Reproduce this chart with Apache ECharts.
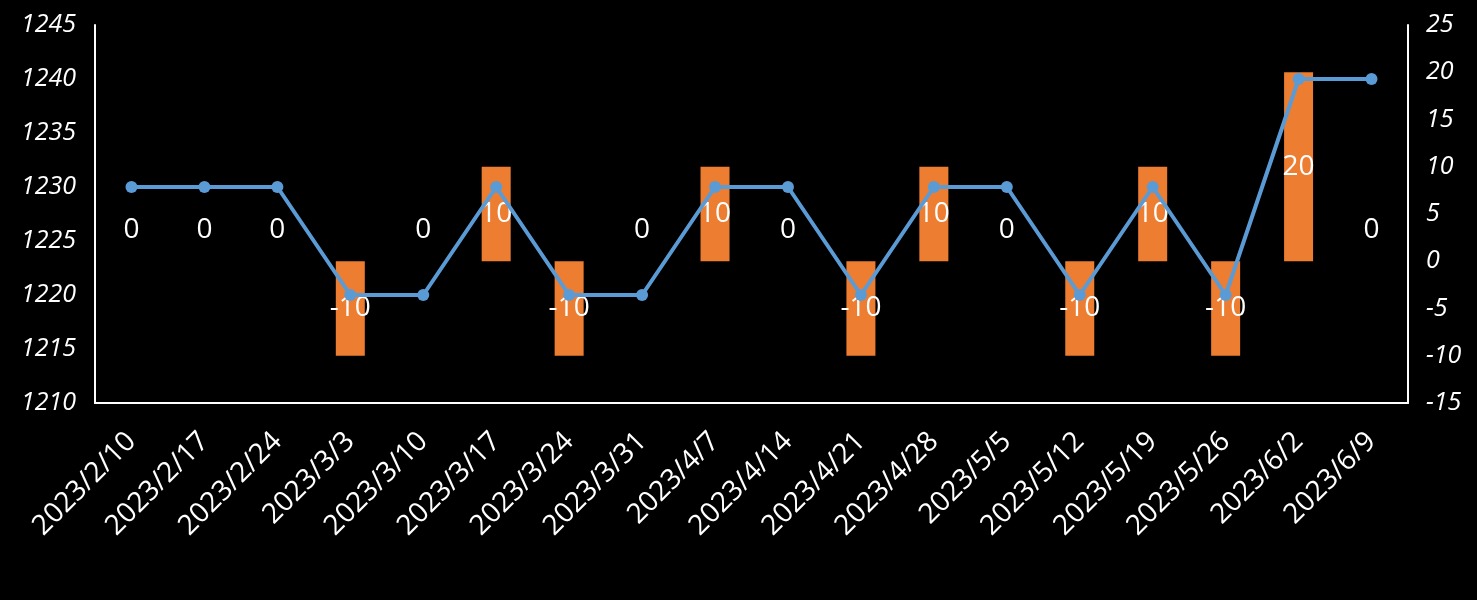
<!DOCTYPE html>
<html><head><meta charset="utf-8">
<script src="https://cdn.jsdelivr.net/npm/echarts@6/dist/echarts.min.js"></script>
<style>html,body{margin:0;padding:0;background:#000;}#c{width:1477px;height:600px;}</style>
</head><body><div id="c"></div>
<script>
const categories = ['2023/2/10','2023/2/17','2023/2/24','2023/3/3','2023/3/10','2023/3/17','2023/3/24','2023/3/31','2023/4/7','2023/4/14','2023/4/21','2023/4/28','2023/5/5','2023/5/12','2023/5/19','2023/5/26','2023/6/2','2023/6/9'];
const lineValues = [1230,1230,1230,1220,1220,1230,1220,1220,1230,1230,1220,1230,1230,1220,1230,1220,1240,1240];
const barValues = [0,0,0,-10,0,10,-10,0,10,0,-10,10,0,-10,10,-10,20,0];
const leftTicks = {min:1210, max:1245, interval:5};
const rightTicks = {min:-15, max:25, interval:5};

const font = '"Open Sans", "Liberation Sans", sans-serif';
const chart = echarts.init(document.getElementById('c'));
chart.setOption({
  backgroundColor:'#000',
  animation:false,
  grid:{left:95, right:69, top:25, bottom:197},
  xAxis:{type:'category', data:categories,
    axisLine:{onZero:false, lineStyle:{color:'#fff', width:2}}, axisTick:{show:false},
    axisLabel:{color:'#fff', rotate:45, fontSize:28, fontFamily:font, interval:0, margin:34}},
  yAxis:[
    {type:'value', min:leftTicks.min, max:leftTicks.max, interval:leftTicks.interval, position:'left',
     axisLine:{show:true, lineStyle:{color:'#fff', width:2}}, axisTick:{show:false}, splitLine:{show:false},
     axisLabel:{color:'#fff', fontSize:25, fontStyle:'italic', fontFamily:font, margin:19, formatter:v=>String(v)}},
    {type:'value', min:rightTicks.min, max:rightTicks.max, interval:rightTicks.interval, position:'right',
     axisLine:{show:true, lineStyle:{color:'#fff', width:2}}, axisTick:{show:false}, splitLine:{show:false},
     axisLabel:{color:'#fff', fontSize:25, fontStyle:'italic', fontFamily:font, margin:18, formatter:v=>String(v)}}
  ],
  series:[
    {type:'bar', yAxisIndex:1, barWidth:29, itemStyle:{color:'#ED7D31'},
     data: barValues.map(v => ({value:v, label: v===0 ? {offset:[0,-31]} : {}})),
     label:{show:true, position:'inside', color:'#fff', fontSize:28, fontFamily:font}},
    {type:'line', yAxisIndex:0, data:lineValues, z:3,
     lineStyle:{color:'#5B9BD5', width:4}, itemStyle:{color:'#5B9BD5'},
     symbol:'circle', symbolSize:12, showAllSymbol:true}
  ]
});
</script></body></html>
